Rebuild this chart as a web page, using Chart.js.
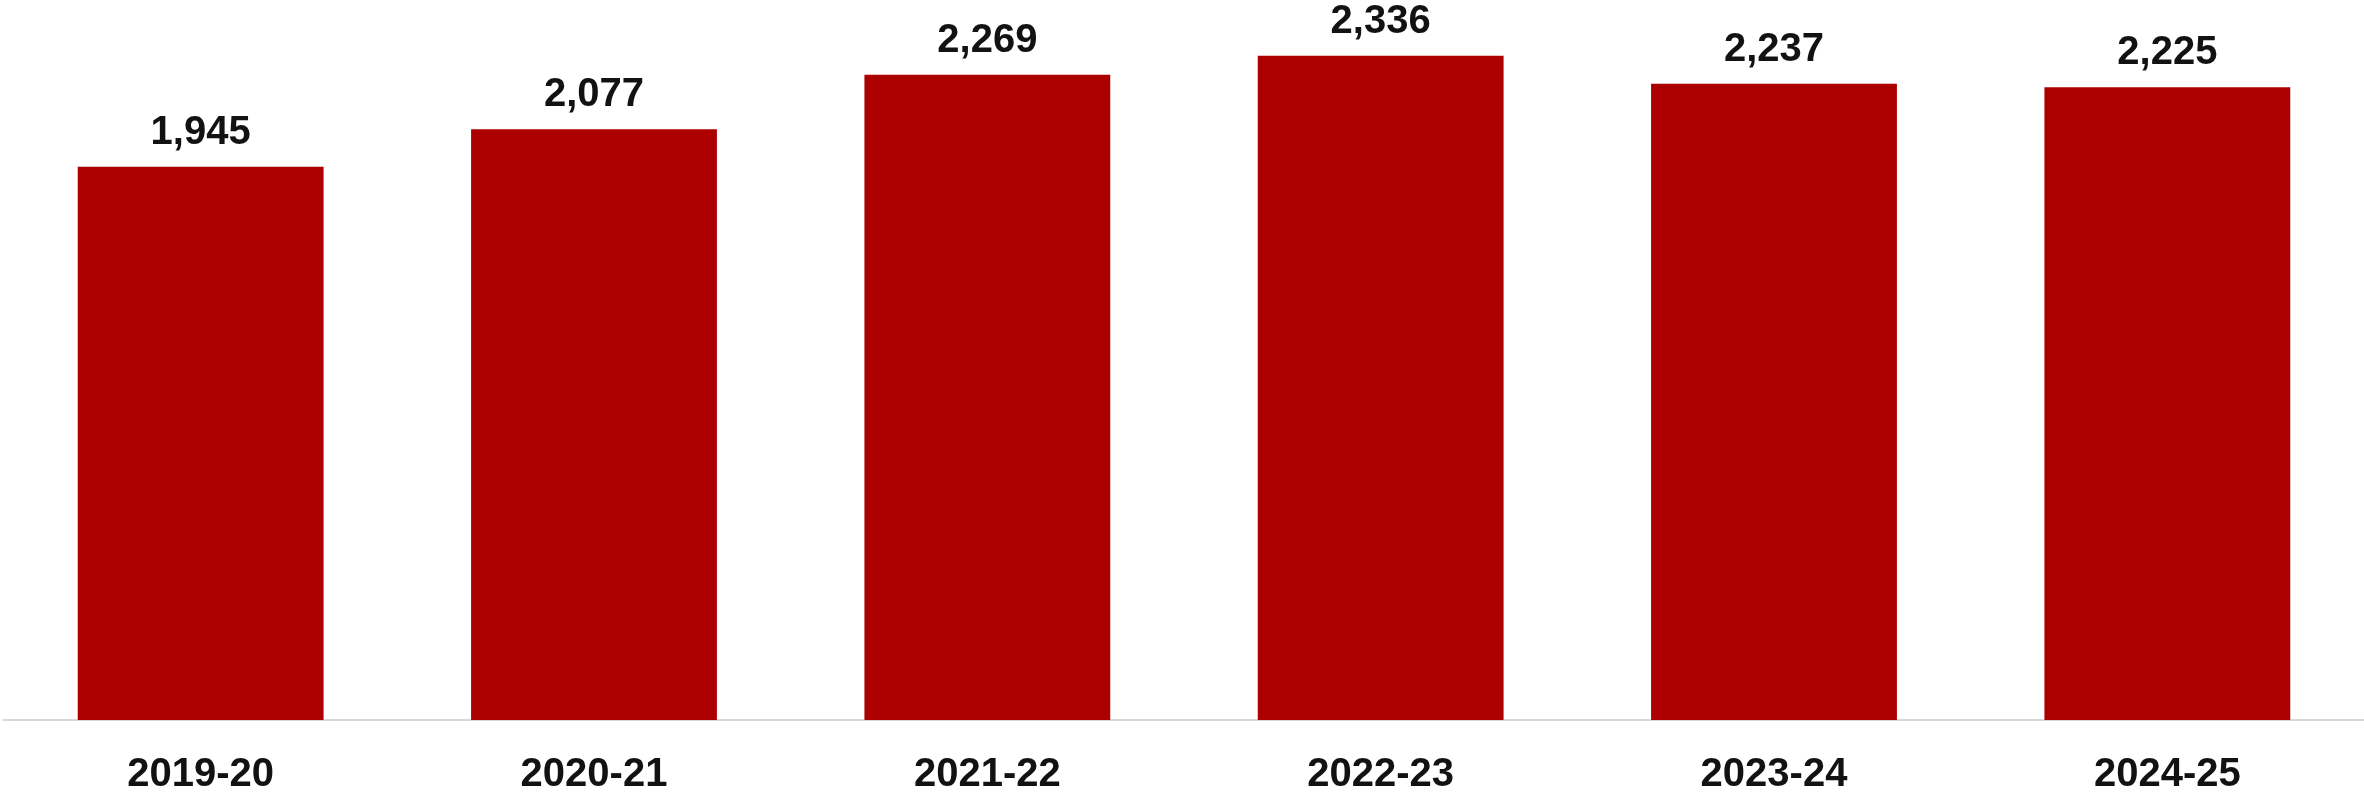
<!DOCTYPE html>
<html>
<head>
<meta charset="utf-8">
<script src="https://cdn.jsdelivr.net/npm/chart.js@4"></script>
<style>
  html, body { margin: 0; padding: 0; background: #fff; }
  #wrap { width: 2364px; height: 792px; position: relative; }
</style>
</head>
<body>
<div id="wrap"><canvas id="chart"></canvas></div>
<script>
// Années scolaires et effectifs
const years = ['2019-20', '2020-21', '2021-22', '2022-23', '2023-24', '2024-25'];
const totals = [1945, 2077, 2269, 2336, 2237, 2225];

const barColor = '#ac0000';
const textColor = '#121212';
const fontFamily = '"Liberation Sans", Arial, Helvetica, sans-serif';

// Valeur au-dessus de chaque barre
const valueLabels = {
  id: 'valueLabels',
  afterDatasetsDraw(chart) {
    const ctx = chart.ctx;
    const meta = chart.getDatasetMeta(0);
    ctx.save();
    ctx.font = 'bold 40px ' + fontFamily;
    ctx.fillStyle = textColor;
    ctx.textAlign = 'center';
    ctx.textBaseline = 'alphabetic';
    meta.data.forEach((bar, i) => {
      ctx.fillText(totals[i].toLocaleString('en-US'), bar.x, bar.y - 23);
    });
    ctx.restore();
  }
};

new Chart(document.getElementById('chart'), {
  type: 'bar',
  data: {
    labels: years,
    datasets: [{
      data: totals,
      backgroundColor: barColor,
      borderWidth: 0,
      categoryPercentage: 1,
      barPercentage: 0.625
    }]
  },
  options: {
    responsive: true,
    maintainAspectRatio: false,
    animation: false,
    layout: { padding: { left: 4, right: 0, top: 9, bottom: 0 } },
    plugins: {
      legend: { display: false },
      tooltip: { enabled: false }
    },
    scales: {
      x: {
        grid: { display: false, drawTicks: false },
        border: { display: true, color: '#d9d9d9', width: 2 },
        ticks: {
          color: textColor,
          padding: 35,
          font: { family: fontFamily, size: 40, weight: 'bold', lineHeight: 1 }
        },
        // hauteur fixe de l'axe pour garder la base des barres en place
        afterFit(scale) { scale.height = 72; }
      },
      y: {
        display: false,
        min: 0,
        max: 2500
      }
    }
  },
  plugins: [valueLabels]
});
</script>
</body>
</html>
